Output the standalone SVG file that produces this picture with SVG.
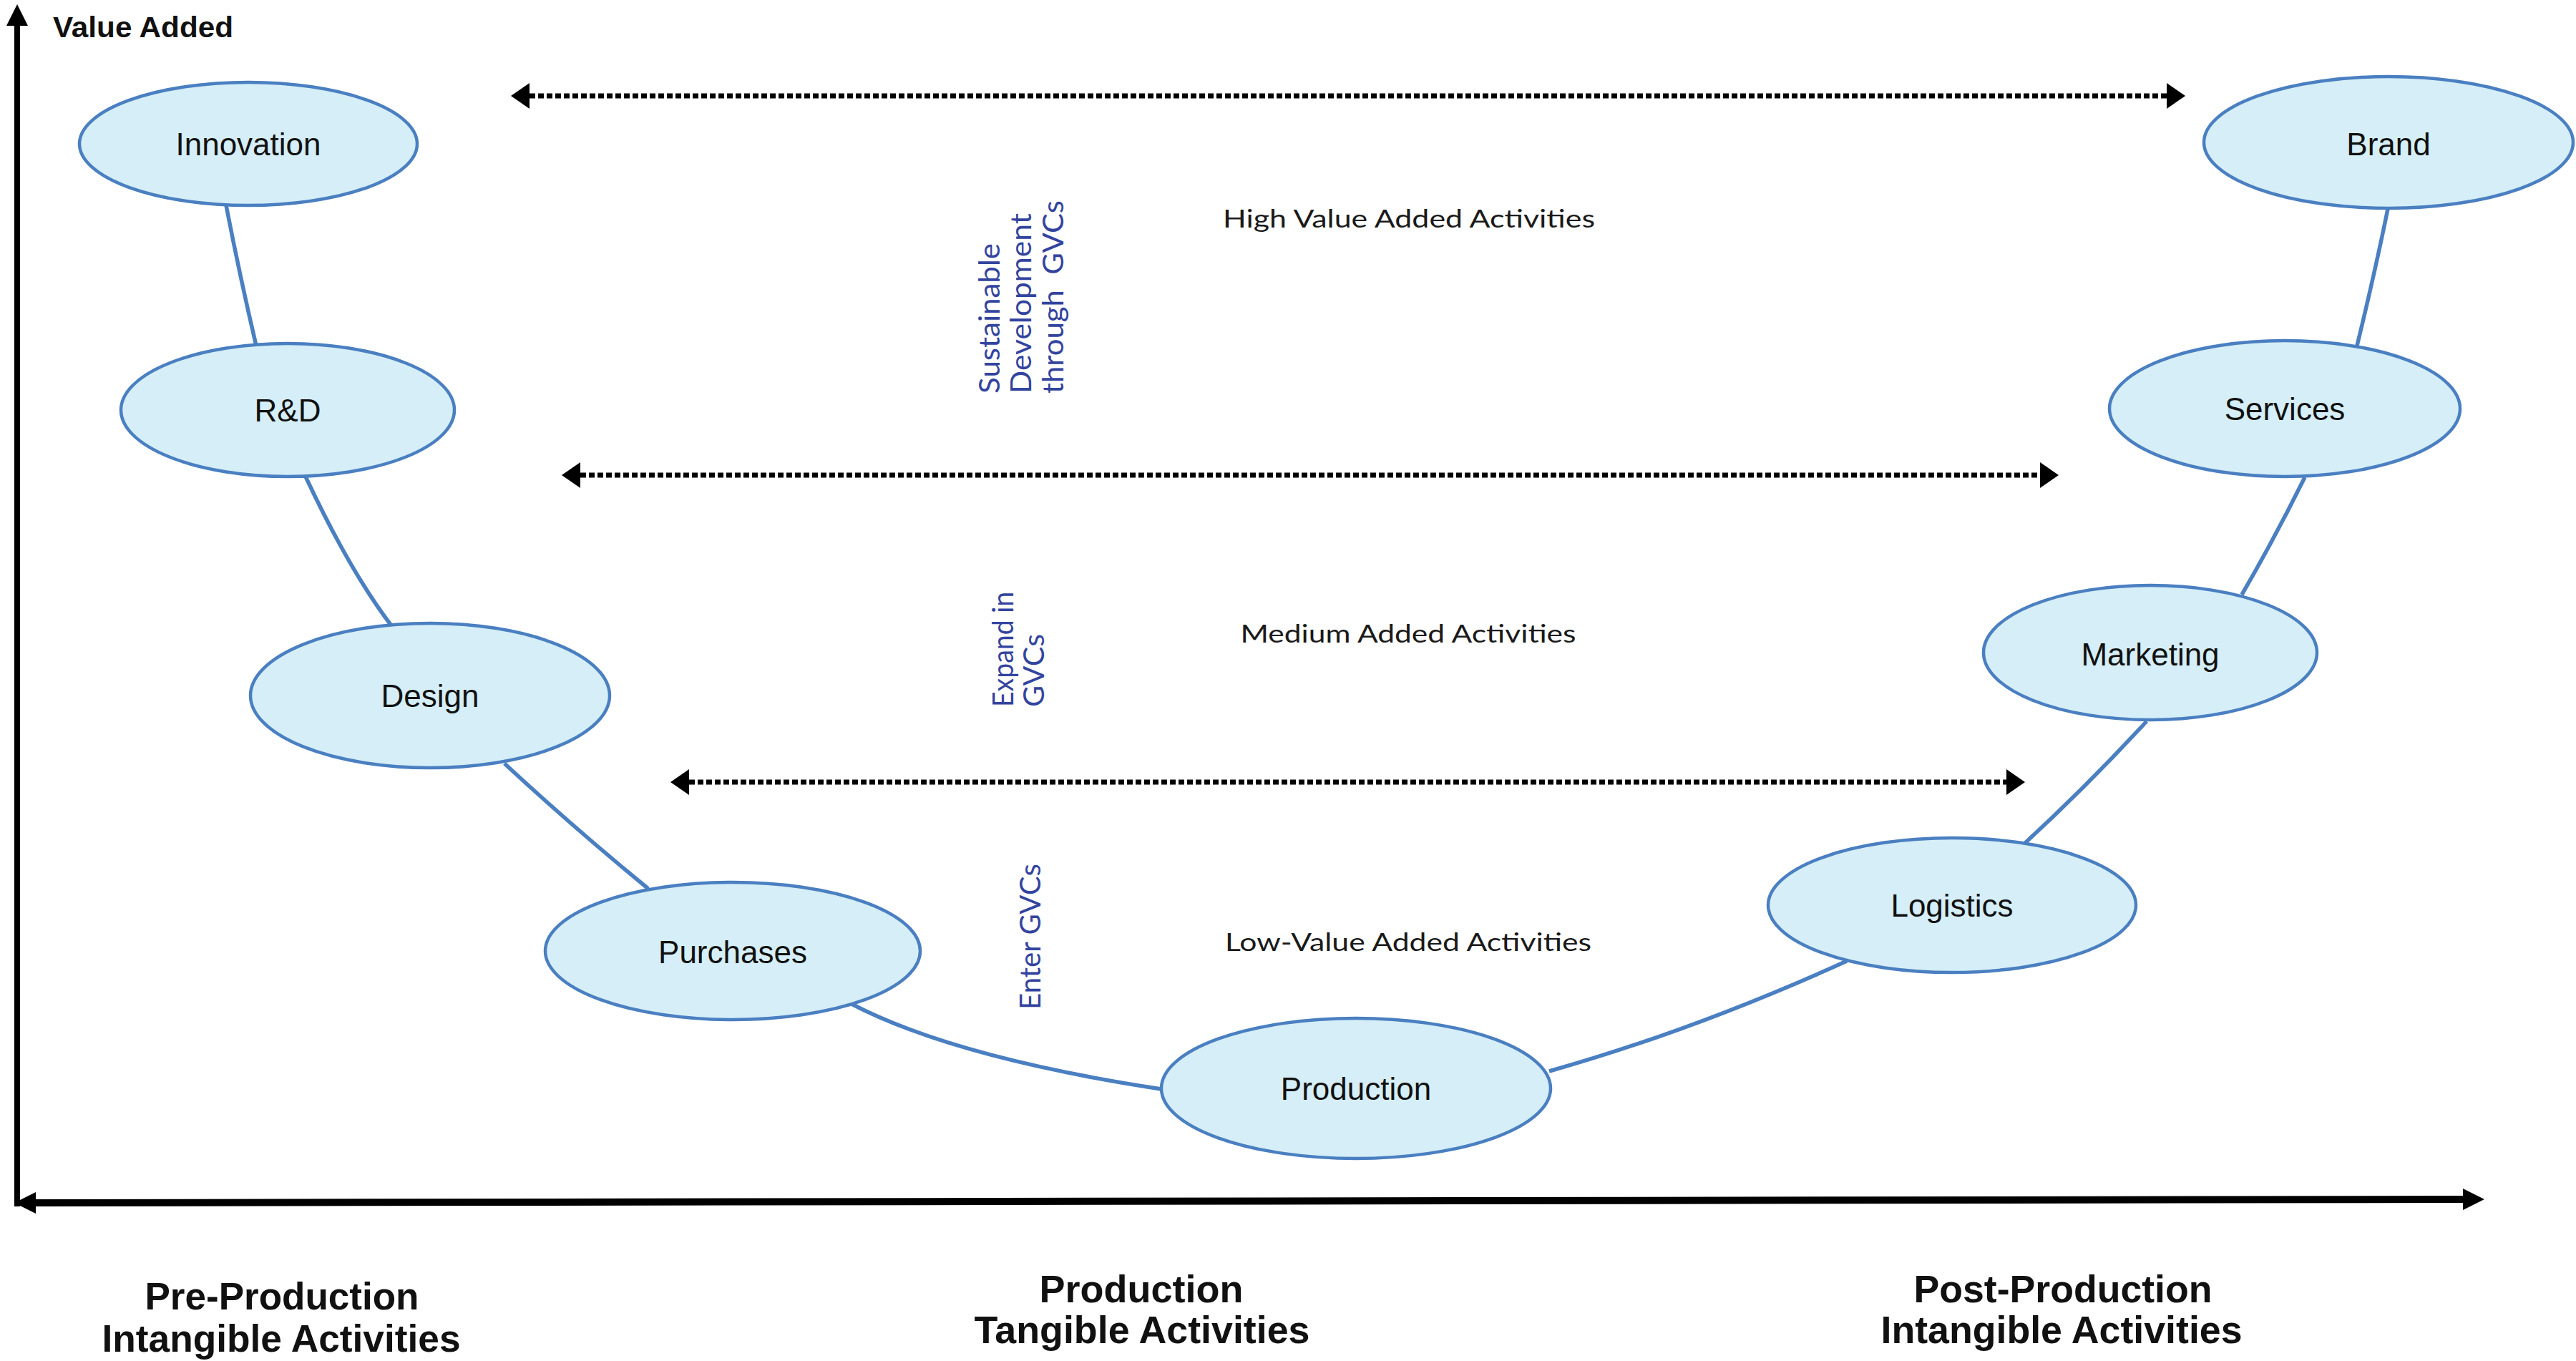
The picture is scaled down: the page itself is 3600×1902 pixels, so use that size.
<svg xmlns="http://www.w3.org/2000/svg" width="3600" height="1902" viewBox="0 0 3600 1902">
<style>
.node ellipse{fill:#d5eef7;stroke:#4a7fc1;stroke-width:4.5}
.node text{font-family:"Liberation Sans",Arial,sans-serif;font-size:44px;fill:#111;text-anchor:middle}
.conn path{fill:none;stroke:#4a7fc1;stroke-width:5.5}
.dots{stroke:#000;stroke-width:7;stroke-dasharray:8 4;fill:none}
.axis{stroke:#000;fill:none}
.lvl{font-family:Lato,"Noto Sans",sans-serif;font-size:34px;fill:#1a1a1a;text-anchor:middle}
.gvc{font-family:Lato,"Noto Sans",sans-serif;font-size:40px;fill:#33449e}
.cat{font-family:"Liberation Sans",Arial,sans-serif;font-weight:bold;font-size:53px;fill:#111;text-anchor:middle}
.ttl{font-family:"Liberation Sans",Arial,sans-serif;font-weight:bold;font-size:40px;fill:#111}
</style>
<defs>
<marker id="dh" markerUnits="userSpaceOnUse" markerWidth="26" markerHeight="36" refX="0" refY="18" orient="auto-start-reverse" viewBox="0 0 26 36">
<path d="M0,0 L26,18 L0,36 z" fill="#000"/>
</marker>
<marker id="axh" markerUnits="userSpaceOnUse" markerWidth="30" markerHeight="30" refX="0" refY="15" orient="auto-start-reverse" viewBox="0 0 30 30">
<path d="M0,0 L30,15 L0,30 z" fill="#000"/>
</marker>
</defs>

<g id="axes">
<line class="axis" x1="24" y1="1686" x2="24" y2="36" stroke-width="8" marker-end="url(#axh)"/>
<line class="axis" x1="50" y1="1681" x2="3442" y2="1676" stroke-width="10" marker-start="url(#axh)" marker-end="url(#axh)"/>
<text class="ttl" x="74" y="52" textLength="252" lengthAdjust="spacingAndGlyphs">Value Added</text>
</g>

<g id="connectors" class="conn">
<path d="M316,287 Q335,385 358,483"/>
<path d="M427,666 Q489,798 546,873"/>
<path d="M705,1067 Q800,1155 906,1242"/>
<path d="M1190,1403 Q1334,1478 1623,1522"/>
<path d="M2165,1497 Q2367,1440 2581,1343"/>
<path d="M2828,1180 Q2915,1100 3000,1008"/>
<path d="M3133,831 Q3180,750 3221,667"/>
<path d="M3294,483 Q3318,385 3337,292"/>
</g>

<g id="level-arrows">
<line class="dots" x1="740" y1="134" x2="3028" y2="134" marker-start="url(#dh)" marker-end="url(#dh)"/>
<line class="dots" x1="811" y1="664" x2="2851" y2="664" marker-start="url(#dh)" marker-end="url(#dh)"/>
<line class="dots" x1="963" y1="1093" x2="2804" y2="1093" marker-start="url(#dh)" marker-end="url(#dh)"/>
</g>

<g id="n-innovation" class="node"><ellipse cx="347" cy="201" rx="236" ry="86"/><text x="347" y="217">Innovation</text></g>
<g id="n-rd" class="node"><ellipse cx="402" cy="573" rx="233" ry="93"/><text x="402" y="589">R&amp;D</text></g>
<g id="n-design" class="node"><ellipse cx="601" cy="972" rx="251" ry="101"/><text x="601" y="988">Design</text></g>
<g id="n-purchases" class="node"><ellipse cx="1024" cy="1329" rx="262" ry="96"/><text x="1024" y="1346">Purchases</text></g>
<g id="n-production" class="node"><ellipse cx="1895" cy="1521" rx="272" ry="98"/><text x="1895" y="1537">Production</text></g>
<g id="n-logistics" class="node"><ellipse cx="2728" cy="1265" rx="257" ry="94"/><text x="2728" y="1281">Logistics</text></g>
<g id="n-marketing" class="node"><ellipse cx="3005" cy="912" rx="233" ry="94"/><text x="3005" y="930">Marketing</text></g>
<g id="n-services" class="node"><ellipse cx="3193" cy="571" rx="245" ry="95"/><text x="3193" y="587">Services</text></g>
<g id="n-brand" class="node"><ellipse cx="3338" cy="199" rx="258" ry="92"/><text x="3338" y="217">Brand</text></g>

<g id="level-labels">
<text class="lvl" x="1969" y="318" textLength="520" lengthAdjust="spacingAndGlyphs">High Value Added Activities</text>
<text class="lvl" x="1968" y="898" textLength="469" lengthAdjust="spacingAndGlyphs">Medium Added Activities</text>
<text class="lvl" x="1968" y="1329" textLength="512" lengthAdjust="spacingAndGlyphs">Low-Value Added Activities</text>
</g>

<g id="gvc-labels">
<text class="gvc" transform="translate(1397,550) rotate(-90)" textLength="210" lengthAdjust="spacingAndGlyphs">Sustainable</text>
<text class="gvc" transform="translate(1441,550) rotate(-90)" textLength="252" lengthAdjust="spacingAndGlyphs">Development</text>
<text class="gvc" transform="translate(1486,550) rotate(-90)" textLength="270" lengthAdjust="spacingAndGlyphs" xml:space="preserve">through  GVCs</text>
<text class="gvc" transform="translate(1416,988) rotate(-90)" textLength="161" lengthAdjust="spacingAndGlyphs">Expand in</text>
<text class="gvc" transform="translate(1459,988) rotate(-90)" textLength="102" lengthAdjust="spacingAndGlyphs">GVCs</text>
<text class="gvc" transform="translate(1454,1411) rotate(-90)" textLength="204" lengthAdjust="spacingAndGlyphs">Enter GVCs</text>
</g>

<g id="categories">
<text class="cat" x="394" y="1830" textLength="383" lengthAdjust="spacingAndGlyphs">Pre-Production</text>
<text class="cat" x="393" y="1889" textLength="501" lengthAdjust="spacingAndGlyphs">Intangible Activities</text>
<text class="cat" x="1595" y="1820" textLength="285" lengthAdjust="spacingAndGlyphs">Production</text>
<text class="cat" x="1596" y="1877" textLength="469" lengthAdjust="spacingAndGlyphs">Tangible Activities</text>
<text class="cat" x="2883" y="1820" textLength="417" lengthAdjust="spacingAndGlyphs">Post-Production</text>
<text class="cat" x="2881" y="1877" textLength="505" lengthAdjust="spacingAndGlyphs">Intangible Activities</text>
</g>
</svg>
